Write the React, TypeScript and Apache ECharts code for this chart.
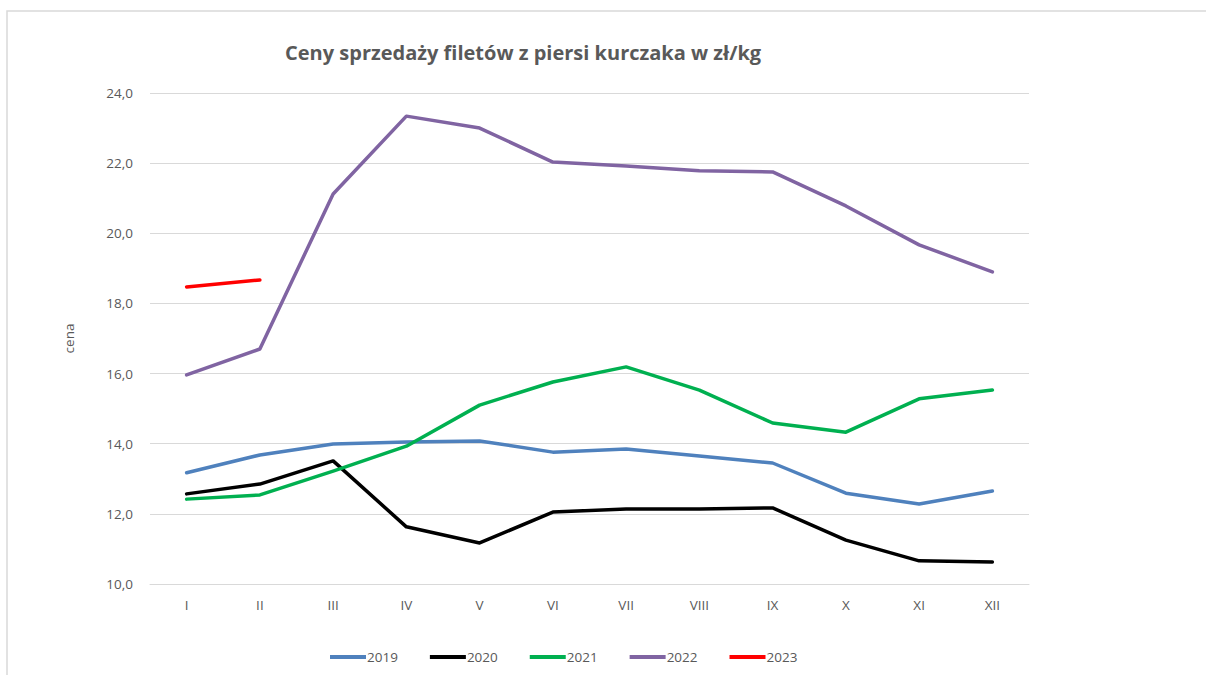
import React, { useEffect, useRef } from "react";
import * as echarts from "echarts";

const months = ["I", "II", "III", "IV", "V", "VI", "VII", "VIII", "IX", "X", "XI", "XII"];
const s2019 = [13.17, 13.68, 13.99, 14.05, 14.08, 13.76, 13.85, 13.65, 13.45, 12.59, 12.28, 12.65];
const s2020 = [12.57, 12.85, 13.51, 11.63, 11.17, 12.05, 12.14, 12.14, 12.17, 11.25, 10.66, 10.63];
const s2021 = [12.42, 12.54, 13.22, 13.93, 15.1, 15.76, 16.19, 15.53, 14.59, 14.33, 15.28, 15.53];
const s2022 = [15.96, 16.7, 21.12, 23.34, 23.0, 22.03, 21.92, 21.78, 21.75, 20.78, 19.67, 18.9];
const s2023 = [18.47, 18.67];

const seriesDefs = [
  { name: "2019", data: s2019, color: "#4f81bd" },
  { name: "2020", data: s2020, color: "#000000" },
  { name: "2021", data: s2021, color: "#00b050" },
  { name: "2022", data: s2022, color: "#8064a2" },
  { name: "2023", data: s2023, color: "#ff0000" },
];

const FONT = "'Open Sans', 'Noto Sans', sans-serif";

export default function App() {
  const ref = useRef<HTMLDivElement>(null);
  useEffect(() => {
    document.body.style.margin = "0";
    const chart = echarts.init(ref.current!, null, { renderer: "svg" });
    chart.setOption({
      animation: false,
      backgroundColor: "#ffffff",
      textStyle: { fontFamily: FONT },
      title: {
        text: "Ceny sprzedaży filetów z piersi kurczaka w zł/kg",
        left: 280,
        top: 37,
        textStyle: { fontFamily: FONT, fontSize: 20, fontWeight: "bold", color: "#595959" },
      },
      graphic: [
        {
          type: "polyline",
          shape: { points: [[7, 675], [7, 11], [1206, 11]] },
          style: { stroke: "#d9d9d9", fill: "none", lineWidth: 1.5 },
          silent: true,
        },
      ],
      legend: {
        bottom: 6,
        left: 325,
        itemWidth: 36,
        itemHeight: 4,
        itemGap: 32,
        icon: "rect",
        textStyle: { fontFamily: FONT, fontSize: 13.5, color: "#595959", padding: [0, 0, 0, -4] },
        data: seriesDefs.map((s) => s.name),
      },
      grid: { left: 150, right: 177, top: 93, bottom: 91, containLabel: false },
      xAxis: {
        type: "category",
        data: months,
        boundaryGap: true,
        axisLine: { show: true, lineStyle: { color: "#d9d9d9" } },
        axisTick: { show: false },
        axisLabel: { color: "#595959", fontSize: 13.5, margin: 14, fontFamily: FONT },
      },
      yAxis: {
        type: "value",
        min: 10,
        max: 24,
        interval: 2,
        name: "cena",
        nameLocation: "middle",
        nameGap: 74,
        nameTextStyle: { color: "#595959", fontSize: 13.5, fontFamily: FONT },
        axisLine: { show: false },
        axisTick: { show: false },
        axisLabel: {
          color: "#595959",
          fontSize: 13.5,
          margin: 17,
          fontFamily: FONT,
          formatter: (v: number) => v.toFixed(1).replace(".", ","),
        },
        splitLine: { lineStyle: { color: "#d9d9d9", width: 1 } },
      },
      series: seriesDefs.map((s) => ({
        name: s.name,
        type: "line",
        data: s.data,
        color: s.color,
        symbol: "none",
        lineStyle: { width: 3.5, color: s.color, cap: "round", join: "round" },
      })),
    });
    return () => chart.dispose();
  }, []);
  return <div ref={ref} style={{ position: "absolute", left: 0, top: 0, width: 1206, height: 675 }} />;
}
